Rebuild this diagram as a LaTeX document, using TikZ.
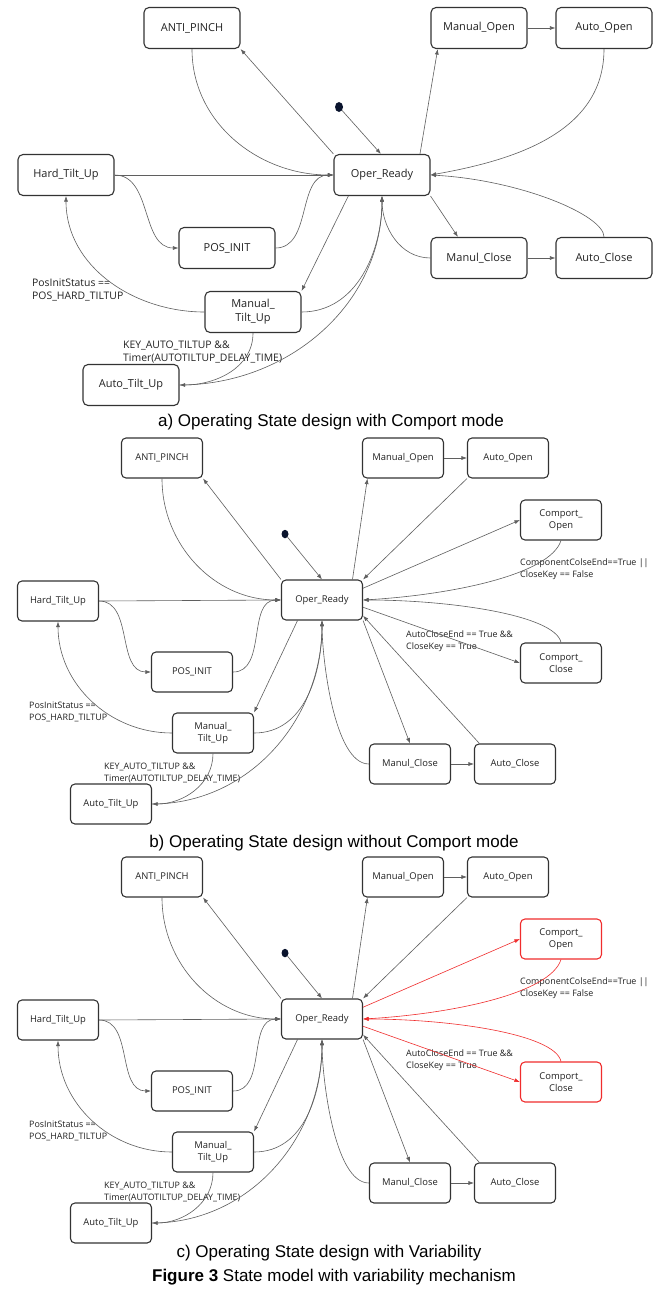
\documentclass[tikz,border=0pt]{standalone}
\usepackage{fontspec}
\setmainfont{Open Sans}
\newfontfamily\capfont{Liberation Sans}
\usetikzlibrary{arrows.meta,shapes.geometric}

\definecolor{boxline}{RGB}{51,51,51}
\definecolor{wire}{RGB}{95,95,95}
\definecolor{txt}{RGB}{34,34,34}
\definecolor{varred}{RGB}{240,45,45}
\definecolor{dotfill}{RGB}{10,20,45}

\tikzset{
  state/.style={draw=boxline, line width=1.1pt, rounded corners=5pt, minimum width=96pt,
    minimum height=41pt, inner sep=1pt, align=center, text=txt, font=\fontsize{11}{14}\selectfont},
  smallstate/.style={state, minimum width=81pt, minimum height=40pt, rounded corners=4.5pt,
    font=\fontsize{9.4}{12.5}\selectfont},
  trans/.style={draw=wire, line width=0.6pt, -{Latex[length=5.5pt,width=4pt]}},
  guard/.style={anchor=west, align=left, inner sep=0pt, text=txt, font=\fontsize{10.4}{13}\selectfont},
  smallguard/.style={guard, font=\fontsize{8.9}{12}\selectfont},
  initdot/.style={ellipse, fill=dotfill, draw=none, minimum width=8pt, minimum height=10pt, inner sep=0pt},
  capline/.style={font=\capfont\fontsize{17}{20}\selectfont, text=black, inner sep=0pt}
}

% panel with the comport states: #1 shift down, #2 box colour, #3 wire colour
\newcommand{\comportpanel}[3]{%
\begin{scope}[yshift=-#1pt]
  \node[smallstate] (ap) at (162,458) {ANTI\_PINCH};
  \node[smallstate] (mo) at (403,458) {Manual\_Open};
  \node[smallstate] (ao) at (508,458) {Auto\_Open};
  \node[smallstate, draw=#2] (copen) at (561,520) {Comport\_\\Open};
  \node[initdot, minimum width=7pt, minimum height=8.5pt] (init) at (285,534) {};
  \node[smallstate] (ready) at (322,600) {Oper\_Ready};
  \node[smallstate] (hard) at (58,601) {Hard\_Tilt\_Up};
  \node[smallstate, draw=#2] (cclose) at (561,663) {Comport\_\\Close};
  \node[smallstate] (pos) at (192,672) {POS\_INIT};
  \node[smallstate] (mtilt) at (213,733) {Manual\_\\Tilt\_Up};
  \node[smallstate] (mclose) at (410,764) {Manul\_Close};
  \node[smallstate] (aclose) at (515,764) {Auto\_Close};
  \node[smallstate] (atilt) at (111,804) {Auto\_Tilt\_Up};
  % guards
  \node[smallguard] (lposinit) at (29,711.5) {PosInitStatus ==\\POS\_HARD\_TILTUP};
  \node[smallguard] (lkey) at (104,773) {KEY\_AUTO\_TILTUP \&\&\\Timer(AUTOTILTUP\_DELAY\_TIME)};
  \node[smallguard] (lopen) at (520,569) {ComponentColseEnd==True ||\\CloseKey == False};
  \node[smallguard] (lclose) at (406,641) {AutoCloseEnd == True \&\&\\CloseKey == True};
  % transitions
  \draw[trans] (init) -- (ready.north);
  \draw[trans] (ready.north west) -- (ap.south east);
  \draw[trans] (ap.south) to[out=-90,in=180] (ready.west);
  \draw[trans] (hard.east) -- (ready.west);
  \draw[trans] (hard.east) to[out=0,in=180] (pos.west);
  \draw[trans] (pos.east) to[out=0,in=180] (ready.west);
  \draw[trans] (mtilt.west) to[out=180,in=-90] (hard.south);
  \draw[trans] (ready.-140) -- (mtilt.north east);
  \draw[trans] (mtilt.east) to[out=0,in=-90] (ready.south);
  \draw[trans] (mtilt.south) to[out=-90,in=0] (atilt.east);
  \draw[trans] (atilt.east) to[out=0,in=-90] (ready.south);
  \draw[trans] (ready.34) -- (mo.-150);
  \draw[trans] (mo) -- (ao);
  \draw[trans] (ao.south west) -- (ready.north east);
  \draw[trans, draw=#3] (ready.16) -- (copen.west);
  \draw[trans, draw=#3] (copen.south) .. controls (550,575) and (450,595) .. (ready.east);
  \draw[trans, draw=#3] (cclose.north) .. controls (555,615) and (450,600) .. (ready.east);
  \draw[trans, draw=#3] (ready.-10) -- (cclose.west);
  \draw[trans] (ready.south east) -- (mclose.north);
  \draw[trans] (aclose.150) -- (ready.-21);
  \draw[trans] (mclose.west) to[out=180,in=-90,looseness=0.6] (ready.south);
  \draw[trans] (mclose) -- (aclose);
\end{scope}}

\begin{document}
\begin{tikzpicture}[x=1pt,y=-1pt]
  \useasboundingbox[fill=white] (0,0) rectangle (662,1290);

  % a) with Comport mode
  \node[state] (ap) at (192,28) {ANTI\_PINCH};
  \node[state] (mo) at (479,28) {Manual\_Open};
  \node[state] (ao) at (604,28) {Auto\_Open};
  \node[initdot] (init) at (339,107) {};
  \node[state] (ready) at (382,175) {Oper\_Ready};
  \node[state] (hard) at (66,175) {Hard\_Tilt\_Up};
  \node[state] (pos) at (227,248) {POS\_INIT};
  \node[state] (mtilt) at (253,312) {Manual\_\\Tilt\_Up};
  \node[state] (mclose) at (479,258) {Manul\_Close};
  \node[state] (aclose) at (604,258) {Auto\_Close};
  \node[state] (atilt) at (131,385) {Auto\_Tilt\_Up};
  \node[guard] (lposinit) at (32,290) {PosInitStatus ==\\POS\_HARD\_TILTUP};
  \node[guard] (lkey) at (123,352) {KEY\_AUTO\_TILTUP \&\&\\Timer(AUTOTILTUP\_DELAY\_TIME)};

  \draw[trans] (init) -- (ready.93);
  \draw[trans] (ready.north west) -- (ap.south east);
  \draw[trans] (ap.south) to[out=-90,in=180] (ready.west);
  \draw[trans] (hard.east) -- (ready.west);
  \draw[trans] (hard.east) to[out=0,in=180] (pos.west);
  \draw[trans] (pos.east) to[out=0,in=180] (ready.west);
  \draw[trans] (mtilt.west) to[out=180,in=-90] (hard.south);
  \draw[trans] (ready.-148) -- (mtilt.north east);
  \draw[trans] (mtilt.east) to[out=0,in=-90] (ready.south);
  \draw[trans] (mtilt.south) to[out=-90,in=0] (atilt.east);
  \draw[trans] (atilt.east) to[out=0,in=-90] (ready.south);
  \draw[trans] (ready.29) -- (mo.-153);
  \draw[trans] (mo) -- (ao);
  \draw[trans] (ao.south) to[out=-90,in=10] (ready.east);
  \draw[trans] (ready.south east) -- (mclose.135);
  \draw[trans] (mclose.west) to[out=180,in=-90] (ready.south);
  \draw[trans] (mclose) -- (aclose);
  \draw[trans] (aclose.north) .. controls (604,215) and (520,180) .. (ready.east);

  \node[capline] (capa) at (331,422) {a) Operating State design with Comport mode};

  % b) without Comport mode
  \comportpanel{0}{boxline}{wire}
  \node[capline] (capb) at (334,843) {b) Operating State design without Comport mode};

  % c) with Variability
  \comportpanel{419}{varred}{varred}
  \node[capline] (capc) at (329,1253) {c) Operating State design with Variability};
  \node[capline] (capfig) at (334,1277) {\textbf{Figure 3} State model with variability mechanism};
\end{tikzpicture}
\end{document}
